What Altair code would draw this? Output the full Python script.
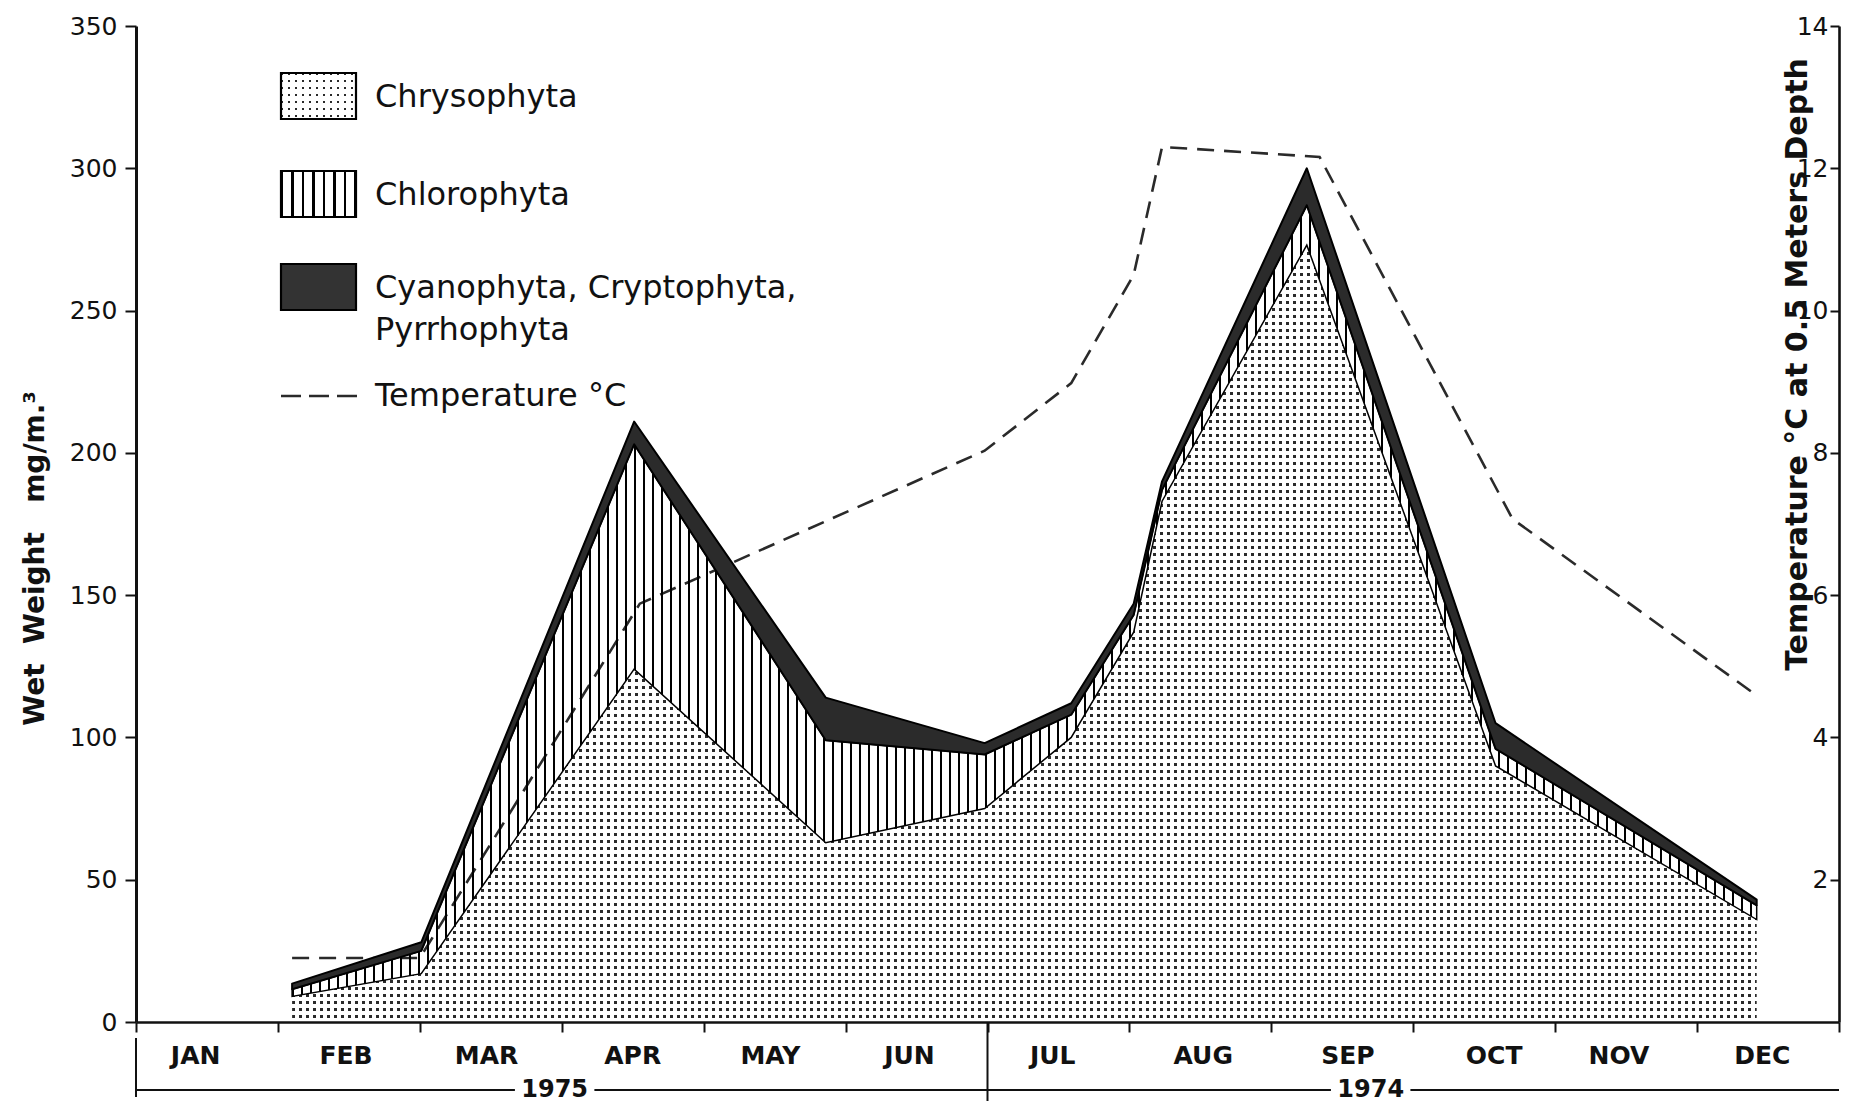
import altair as alt
import pandas as pd

# ---------------- data ----------------
# sampling positions in months (0 = start of JAN, 12 = end of DEC)
sample_month = [1.10, 2.01, 3.51, 4.86, 5.98, 6.59, 7.03, 7.23, 8.25, 9.58, 11.42]
chrysophyta = [9, 17, 124, 63, 75, 100, 137, 183, 273, 90, 36]
chlorophyta = [2.5, 8, 79, 36, 19, 8, 6, 4, 14, 6, 5]
cyano_crypto_pyrrho = [2, 3, 8, 15, 4, 4, 4, 3, 13, 9, 2]

temp_month = [1.10, 2.00, 3.55, 5.98, 6.59, 7.03, 7.23, 8.34, 9.70, 11.42]
temperature = [0.9, 0.9, 5.88, 8.03, 8.98, 10.5, 12.3, 12.16, 7.07, 4.59]

month_names = ["JAN", "FEB", "MAR", "APR", "MAY", "JUN",
               "JUL", "AUG", "SEP", "OCT", "NOV", "DEC"]
month_label_pos = [0.42, 1.48, 2.47, 3.50, 4.47, 5.45,
                   6.46, 7.52, 8.54, 9.57, 10.45, 11.46]

years = ["1975", "1974"]
year_start = [0, 6]
year_end = [6, 12]
year_label_pos = [2.95, 8.70]

left_ticks = [0, 50, 100, 150, 200, 250, 300, 350]
right_ticks = [2, 4, 6, 8, 10, 12, 14]
month_bounds = list(range(13))

legend_labels = ["Chrysophyta", "Chlorophyta", "Cyanophyta, Cryptophyta,",
                 "Pyrrhophyta", "Temperature °C"]

NB = "\u00a0"
left_title = f"Wet{NB} Weight{NB}{NB} mg/m.³"
right_title = "Temperature °C at 0.5 Meters Depth"

# ---------------- layout ----------------
W, H = 1703, 996
PAD = {"left": 128, "top": 18, "right": 2, "bottom": 84}
PX_MONTH = W / 12.0
PX_UNIT = H / 350.0
FONT = "DejaVu Sans"
INK = "#111111"
DOT = "#2a2a2a"
CLEAR = "rgba(255,255,255,0)"


def band_stops(length, period, band, on, off):
    stops = [{"offset": 0.0, "color": off}]
    pos = 0.0
    while pos < length:
        a = round(pos / length, 5)
        b = round(min(pos + band, length) / length, 5)
        stops += [{"offset": a, "color": off}, {"offset": a, "color": on},
                  {"offset": b, "color": on}, {"offset": b, "color": off}]
        pos += period
    stops.append({"offset": 1.0, "color": off})
    return stops


def grad(stops, horizontal):
    if horizontal:
        return {"gradient": "linear", "x1": 0, "y1": 0, "x2": 1, "y2": 0, "stops": stops}
    return {"gradient": "linear", "x1": 0, "y1": 0, "x2": 0, "y2": 1, "stops": stops}


span_w = (max(sample_month) - min(sample_month)) * PX_MONTH
chry_h = max(chrysophyta) * PX_UNIT

DOT_P, DOT_S = 7.0, 2.4
rows_fill = grad(band_stops(chry_h, DOT_P, DOT_S, DOT, "white"), False)
cols_fill = grad(band_stops(span_w, DOT_P, DOT_S, CLEAR, "white"), True)
stripe_fill = grad(band_stops(span_w, 9.0, 2.0, "black", CLEAR), True)

SW_W, SW_H = 75, 46
sw_rows = grad(band_stops(SW_H, DOT_P, DOT_S, DOT, "white"), False)
sw_cols = grad(band_stops(SW_W, DOT_P, DOT_S, CLEAR, "white"), True)
sw_stripes = grad(band_stops(SW_W, 10.5, 2.2, "black", "white"), True)

xscale = alt.Scale(domain=[0, 12], nice=False, zero=False)
yscale = alt.Scale(domain=[0, 350], nice=False, zero=True)
tscale = alt.Scale(domain=[0, 14], nice=False, zero=True)

# one identical x-axis definition for every layer, so that they merge into one
x_axis = alt.Axis(values=month_bounds, labels=False, tickSize=10, tickWidth=2,
                  tickColor=INK, domainColor=INK, domainWidth=2.6, grid=False,
                  title=None, zindex=2, orient="bottom")


def X(field):
    return alt.X(field, scale=xscale, axis=x_axis)


left_axis = alt.Axis(orient="left", values=left_ticks, tickSize=11, tickWidth=2,
                     tickColor=INK, domainColor=INK, domainWidth=3, grid=False,
                     labelFont=FONT, labelFontSize=25, labelColor=INK, labelPadding=8,
                     title=left_title, titleFont=FONT, titleFontSize=28,
                     titleFontWeight="bold", titleColor=INK, titleAngle=-90,
                     titleX=-101, titleY=532, titleAlign="center",
                     titleBaseline="middle", zindex=2)
right_axis = alt.Axis(orient="left", offset=-W, values=right_ticks, tickSize=9,
                      tickWidth=2, tickColor=INK, domainColor=INK, domainWidth=2.6,
                      grid=False, labelFont=FONT, labelFontSize=25, labelColor=INK,
                      labelPadding=2, title=right_title,
                      titleFont=FONT, titleFontSize=30, titleFontWeight="bold",
                      titleColor=INK, titleAngle=-90, titleX=-42, titleY=338,
                      titleAlign="center", titleBaseline="middle", zindex=2)

tdf = pd.DataFrame({"month": temp_month, "temp": temperature})
temp_line = alt.Chart(tdf).mark_line(stroke="#2a2a2a", strokeWidth=2.6,
                                     strokeDash=[17, 10]).encode(
    x=X("month:Q"), y=alt.Y("temp:Q", scale=tscale, axis=right_axis))

df = pd.DataFrame({"month": sample_month, "chryso": chrysophyta,
                   "chloro": chlorophyta, "cyano": cyano_crypto_pyrrho})
base = alt.Chart(df).transform_calculate(
    chloro_top="datum.chryso + datum.chloro",
    total="datum.chryso + datum.chloro + datum.cyano",
)

chry_rows = base.mark_area(fill=rows_fill).encode(
    x=X("month:Q"), y=alt.Y("chryso:Q", scale=yscale, axis=left_axis))
chry_cols = base.mark_area(fill=cols_fill).encode(
    x=X("month:Q"), y=alt.Y("chryso:Q", scale=yscale, axis=None))
chloro = base.mark_area(fill=stripe_fill, stroke="black", strokeWidth=1.5).encode(
    x=X("month:Q"), y=alt.Y("chloro_top:Q", scale=yscale, axis=None), y2="chryso:Q")
cyano = base.mark_area(fill="#2b2b2b", stroke="black", strokeWidth=2,
                       strokeJoin="round").encode(
    x=X("month:Q"), y=alt.Y("total:Q", scale=yscale, axis=None), y2="chloro_top:Q")

# month labels and year brackets
MY = H + 34
YY = H + 68
mdf = pd.DataFrame({"pos": month_label_pos, "name": month_names})
months_txt = alt.Chart(mdf).mark_text(font=FONT, fontSize=25, fontWeight="bold",
                                      color=INK, baseline="middle").encode(
    x=X("pos:Q"), y=alt.value(MY), text="name:N")

GAP = 0.28
seg_rows = []
for s, e, c in zip(year_start, year_end, year_label_pos):
    seg_rows.append({"xs": s, "xe": c - GAP})
    seg_rows.append({"xs": c + GAP, "xe": e})
year_lines = alt.Chart(pd.DataFrame(seg_rows)).mark_rule(color=INK, strokeWidth=2).encode(
    x=X("xs:Q"), x2="xe:Q", y=alt.value(YY))
ydf = pd.DataFrame({"pos": year_label_pos, "year": years, "start": year_start})
year_txt = alt.Chart(ydf).mark_text(font=FONT, fontSize=24, fontWeight="bold",
                                    color=INK, baseline="middle").encode(
    x=X("pos:Q"), y=alt.value(YY), text="year:N")
left_tick = alt.Chart(ydf.iloc[[0]]).mark_rule(color=INK, strokeWidth=2).encode(
    x=X("start:Q"), y=alt.value(H + 16), y2=alt.value(H + 75))
mid_tick = alt.Chart(ydf.iloc[[1]]).mark_rule(color=INK, strokeWidth=2).encode(
    x=X("start:Q"), y=alt.value(H), y2=alt.value(H + 79))

# legend (drawn inside the plot, upper left)
LX = 145
sw_y = [47, 145, 238]
legend_df = pd.DataFrame({"label": legend_labels})


def sw(fill, top, stroke=None):
    kw = {"fill": fill}
    if stroke:
        kw.update(stroke=stroke, strokeWidth=2.2)
    return alt.Chart(legend_df.iloc[[0]]).mark_rect(**kw).encode(
        x=alt.value(LX), x2=alt.value(LX + SW_W), y=alt.value(top), y2=alt.value(top + SW_H))


legend_layers = [
    sw(sw_rows, sw_y[0]), sw(sw_cols, sw_y[0], "black"),
    sw(sw_stripes, sw_y[1], "black"),
    sw("#333333", sw_y[2], "black"),
    alt.Chart(legend_df.iloc[[4]]).mark_rule(color="#2a2a2a", strokeWidth=2.4,
                                             strokeDash=[20, 8]).encode(
        x=alt.value(LX), x2=alt.value(LX + 76), y=alt.value(370)),
]
label_y = [71, 169, 262, 304, 370]
for i, yy in enumerate(label_y):
    legend_layers.append(
        alt.Chart(legend_df.iloc[[i]]).mark_text(font=FONT, fontSize=32, color=INK,
                                                 align="left", baseline="middle").encode(
            x=alt.value(239), y=alt.value(yy), text="label:N"))

chart = alt.layer(
    temp_line, chry_rows, chry_cols, chloro, cyano, months_txt, year_lines,
    year_txt, left_tick, mid_tick, *legend_layers
).resolve_scale(y="independent").properties(
    width=W, height=H,
    padding=PAD,
    autosize=alt.AutoSizeParams(type="none"),
    background="white",
).configure_view(stroke="transparent")

chart.save("out.html", embed_options={"renderer": "svg", "actions": False})
